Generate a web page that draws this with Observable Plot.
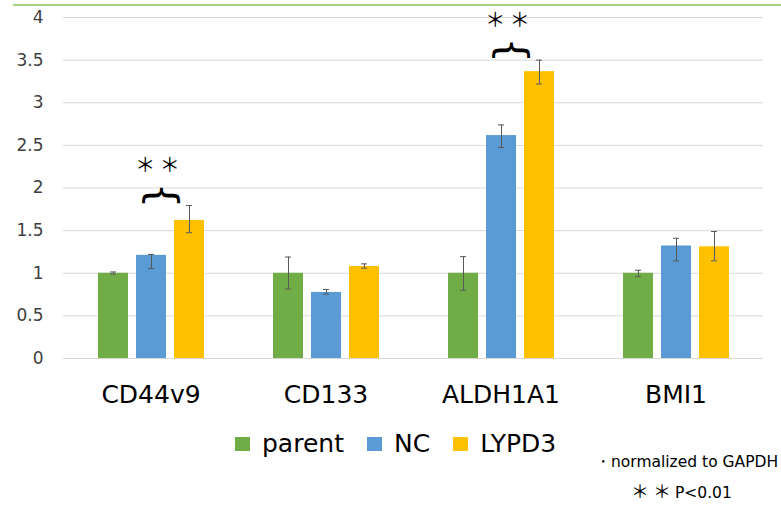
<!DOCTYPE html>
<html>
<head>
<meta charset="utf-8">
<script src="https://cdn.jsdelivr.net/npm/d3@7"></script>
<script src="https://cdn.jsdelivr.net/npm/@observablehq/plot@0.6"></script>
<style>
  body { margin: 0; background: #fff; }
  #wrap { position: relative; width: 781px; height: 505px; background: #fff; font-family: "DejaVu Sans", sans-serif; color: #000; overflow: hidden; }
  #topline { position: absolute; top: 4px; left: 13px; right: 0; height: 2px; background: #a3cf86; }
  #chart { position: absolute; left: 0; top: 0; }
  #legend { position: absolute; left: 235px; top: 429px; display: flex; align-items: center; font-size: 25px; line-height: 30px; }
  .sw { display: inline-block; width: 15px; height: 14px; margin-right: 12px; }
  .item { display: flex; align-items: center; margin-right: 23px; }
  #note1 { position: absolute; left: 595px; top: 452px; font-size: 15.5px; line-height: 20px; white-space: nowrap; }
  #note2 { position: absolute; left: 631px; top: 480px; font-size: 15.5px; line-height: 20px; white-space: nowrap; }
  .ast { font-family: "Noto Sans CJK JP", sans-serif; font-size: 18px; letter-spacing: 4px; }
</style>
</head>
<body>
<div id="wrap">
  <div id="topline"></div>
  <div id="chart"></div>
  <div id="legend"></div>
  <div id="note1">・normalized to GAPDH</div>
  <div id="note2"><span class="ast">＊＊</span>P&lt;0.01</div>
</div>
<script>
// ---- data ----
const groups = ["CD44v9", "CD133", "ALDH1A1", "BMI1"];
const series = ["parent", "NC", "LYPD3"];
const colors = ["#70AD47", "#5B9BD5", "#FFC000"];

const parentVals = [1.00, 1.00, 1.00, 1.00];
const ncVals     = [1.21, 0.775, 2.615, 1.32];
const lypd3Vals  = [1.62, 1.08, 3.365, 1.31];

const parentLo = [0.99, 0.815, 0.80, 0.96];
const parentHi = [1.015, 1.19, 1.195, 1.035];
const ncLo     = [1.055, 0.755, 2.475, 1.145];
const ncHi     = [1.22, 0.81, 2.74, 1.41];
const lypd3Lo  = [1.475, 1.06, 3.22, 1.145];
const lypd3Hi  = [1.795, 1.11, 3.50, 1.49];

const yTicks = [0, 0.5, 1, 1.5, 2, 2.5, 3, 3.5, 4];
const sigGroups = ["CD44v9", "ALDH1A1"];
const sigLabel = "＊ ＊";

// ---- table ----
const valueSets = [parentVals, ncVals, lypd3Vals];
const loSets = [parentLo, ncLo, lypd3Lo];
const hiSets = [parentHi, ncHi, lypd3Hi];
const data = [];
groups.forEach((g, gi) => {
  series.forEach((s, si) => {
    data.push({group: g, series: s, value: valueSets[si][gi], lo: loSets[si][gi], hi: hiSets[si][gi]});
  });
});
const sig = sigGroups.map(g => ({group: g, series: "NC", y: lypd3Hi[groups.indexOf(g)]}));

const chart = Plot.plot({
  width: 781,
  height: 420,
  marginTop: 17,
  marginBottom: 62,
  marginLeft: 62,
  marginRight: 17,
  style: {fontFamily: "DejaVu Sans, sans-serif", background: "transparent"},
  fx: {domain: groups, padding: 0, label: null},
  x: {domain: series, axis: null, paddingInner: 0.22, paddingOuter: 0.86},
  y: {domain: [0, 4], label: null},
  color: {domain: series, range: colors},
  marks: [
    Plot.gridY(yTicks, {stroke: "#d9d9d9", strokeOpacity: 1}),
    Plot.axisY(yTicks, {tickSize: 0, tickPadding: 20, fontSize: 17, label: null, color: "#404040", tickFormat: d => String(d)}),
    Plot.axisFx({tickSize: 0, tickPadding: 27, fontSize: 25, label: null, anchor: "bottom"}),
    Plot.barY(data, {fx: "group", x: "series", y: "value", fill: "series"}),
    Plot.ruleX(data, {fx: "group", x: "series", y1: "lo", y2: "hi", stroke: "#595959", strokeWidth: 1}),
    Plot.tickY(data, {fx: "group", x: "series", y: "lo", stroke: "#595959", insetLeft: 12, insetRight: 12}),
    Plot.tickY(data, {fx: "group", x: "series", y: "hi", stroke: "#595959", insetLeft: 12, insetRight: 12}),
    Plot.text(sig, {fx: "group", x: "series", y: "y", text: () => "{", rotate: 90, dx: 10, dy: -10, fontSize: 40, fill: "#000"}),
    Plot.text(sig, {fx: "group", x: "series", y: "y", text: () => sigLabel, dx: 6, dy: -40, fontSize: 20, fontFamily: "Noto Sans CJK JP", fill: "#000"})
  ]
});
document.getElementById("chart").appendChild(chart);

// ---- legend ----
const legend = document.getElementById("legend");
series.forEach((s, i) => {
  const item = document.createElement("div");
  item.className = "item";
  const sw = document.createElement("span");
  sw.className = "sw";
  sw.style.background = colors[i];
  const t = document.createElement("span");
  t.textContent = s;
  item.appendChild(sw);
  item.appendChild(t);
  legend.appendChild(item);
});
</script>
</body>
</html>
